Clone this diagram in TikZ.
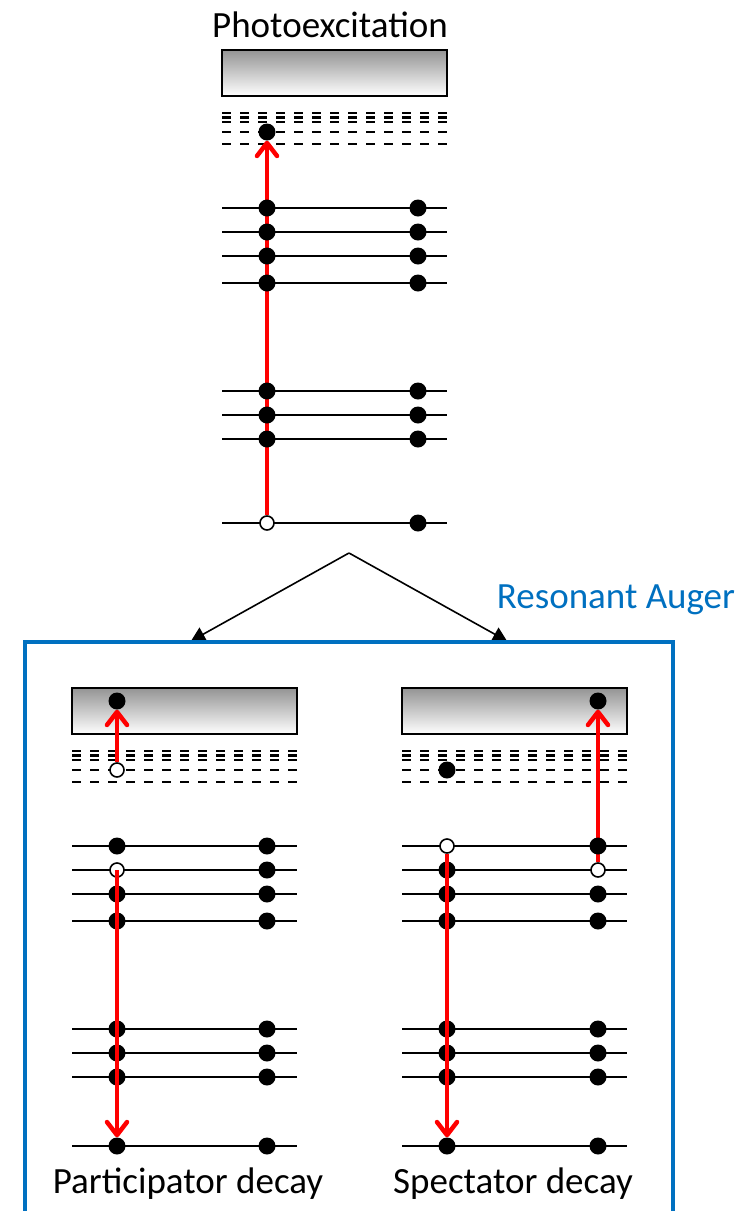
\documentclass[tikz,border=0pt]{standalone}
\usepackage{fontspec}
\setmainfont{Carlito}
\usetikzlibrary{arrows.meta}
\pgfdeclarelayer{lines}
\pgfdeclarelayer{arrows}
\pgfsetlayers{lines,arrows,main}
\definecolor{augerblue}{RGB}{0,112,192}
\tikzset{
  band/.style={draw=black,line width=2pt,top color=black!42,bottom color=white},
  lvl/.style={line width=2pt,black},
  dlvl/.style={line width=2.2pt,black,dash pattern=on 9pt off 9pt},
  elec/.style={circle,fill=black,inner sep=0pt,minimum size=17pt},
  hole/.style={circle,draw=black,line width=1.6pt,fill=white,inner sep=0pt,minimum size=14pt},
  exc/.style={draw=red,line width=4pt,-{Straight Barb[length=13pt,width=20pt,line width=4.5pt 0 1,round]}},
  branch/.style={draw=black,line width=1.6pt,-{Triangle[length=14pt,width=15pt]}},
  lbl/.style={font=\fontsize{37}{41}\selectfont,inner sep=0pt,anchor=base},
}
% #1 = x of left end of the lines, #2 = vertical offset, #3 = y of the deepest level
\newcommand\drawlevelset[3]{%
  \begin{pgfonlayer}{lines}
    \shadedraw[band] (#1,50+#2) rectangle (#1+225,96+#2);
    \foreach \yy in {113,117.5,122,132,144}
      \draw[dlvl] (#1,\yy+#2) -- (#1+225,\yy+#2);
    \foreach \yy in {208,232,256,283,391,415,439,#3}
      \draw[lvl] (#1,\yy+#2) -- (#1+225,\yy+#2);
  \end{pgfonlayer}}
\begin{document}
\begin{tikzpicture}[x=1pt,y=-1pt]
\useasboundingbox (0,0) rectangle (740,1211);

% ---------- Photoexcitation ----------
\node[lbl] (title) at (330,37) {Photoexcitation};
\drawlevelset{222}{0}{523}
\node[elec] (p0) at (267,132) {};
\foreach \yy in {208,232,256,283,391,415,439} {
  \node[elec] (pa\yy) at (267,\yy) {};
  \node[elec] (pb\yy) at (418,\yy) {};
}
\node[hole] (ph) at (267,523) {};
\node[elec] (pb523) at (418,523) {};
\begin{pgfonlayer}{arrows}
  \draw[exc] (ph) -- (p0);
\end{pgfonlayer}

% ---------- branching ----------
\coordinate (apex) at (349,553);
\coordinate (bl) at (191,641);
\coordinate (br) at (507,641);
\draw[branch] (apex) -- (bl);
\draw[branch] (apex) -- (br);

% ---------- Resonant Auger frame ----------
\node[lbl,text=augerblue] (auger) at (616,608) {Resonant Auger};
\draw[augerblue,line width=4pt,line join=miter] (25,1216) -- (25,642) -- (673,642) -- (673,1216);

% ---------- Participator decay ----------
\drawlevelset{72}{638}{508}
\node[elec] (q0) at (117,701) {};
\node[hole] (qh1) at (117,770) {};
\node[elec] (qa846) at (117,846) {};
\node[elec] (qb846) at (267,846) {};
\node[hole] (qh2) at (117,870) {};
\node[elec] (qb870) at (267,870) {};
\foreach \yy in {894,921,1029,1053,1077,1146} {
  \node[elec] (qa\yy) at (117,\yy) {};
  \node[elec] (qb\yy) at (267,\yy) {};
}
\begin{pgfonlayer}{arrows}
  \draw[exc] (qh1) -- (q0);
\end{pgfonlayer}
\draw[exc] (qh2.center) -- (qa1146);
\node[lbl] (part) at (188,1193) {Participator decay};

% ---------- Spectator decay ----------
\drawlevelset{402}{638}{508}
\node[elec] (r0) at (598,701) {};
\node[elec] (rx) at (447,770) {};
\node[hole] (rh1) at (447,846) {};
\node[elec] (rb846) at (598,846) {};
\node[elec] (ra870) at (447,870) {};
\node[hole] (rh2) at (598,870) {};
\foreach \yy in {894,921,1029,1053,1077,1146} {
  \node[elec] (ra\yy) at (447,\yy) {};
  \node[elec] (rb\yy) at (598,\yy) {};
}
\begin{pgfonlayer}{arrows}
  \draw[exc] (rh2) -- (r0);
\end{pgfonlayer}
\draw[exc] (rh1) -- (ra1146);
\node[lbl] (spec) at (513,1193) {Spectator decay};
\end{tikzpicture}
\end{document}
